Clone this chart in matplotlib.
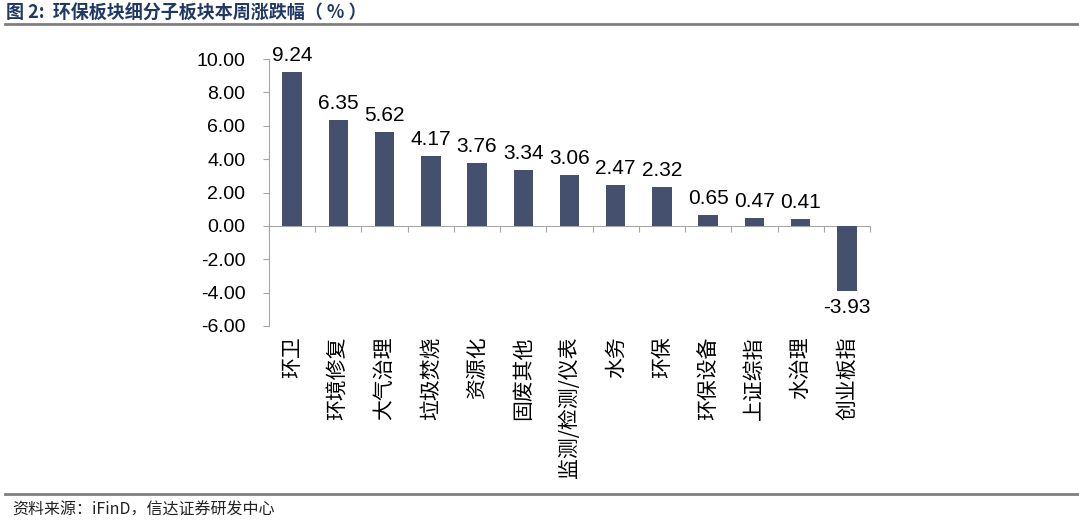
import matplotlib.pyplot as plt
import matplotlib.transforms as mtransforms
import numpy as np

plt.rcParams['font.family'] = ['Liberation Sans', 'Noto Sans CJK SC', 'DejaVu Sans']

categories = ['环卫', '环境修复', '大气治理', '垃圾焚烧', '资源化', '固废其他',
              '监测/检测/仪表', '水务', '环保', '环保设备', '上证综指', '水治理', '创业板指']
changes = [9.24, 6.35, 5.62, 4.17, 3.76, 3.34, 3.06, 2.47, 2.32, 0.65, 0.47, 0.41, -3.93]
yticks = [-6, -4, -2, 0, 2, 4, 6, 8, 10]

bar_color = '#454F6E'
axis_gray = '#A6A6A6'

fig = plt.figure(figsize=(10.79, 5.24), dpi=100)
ax = fig.add_axes([269 / 1079, 1 - 326 / 524, (870 - 269) / 1079, (326 - 59) / 524])

x = np.arange(len(categories))
ax.bar(x, changes, width=0.42, color=bar_color, zorder=3)

ax.set_xlim(-0.5, len(categories) - 0.5)
ax.set_ylim(-6, 10)
ax.set_yticks(yticks)
ax.set_yticklabels([f'{v:.2f}' for v in yticks], fontsize=14)
ax.tick_params(axis='y', direction='out', length=4, color=axis_gray, pad=13)

# x axis sits at zero, ticks between categories
ax.spines['bottom'].set_position(('data', 0))
ax.spines['bottom'].set_color(axis_gray)
ax.spines['left'].set_color(axis_gray)
ax.spines[['top', 'right']].set_visible(False)
ax.set_xticks(np.arange(len(categories) + 1) - 0.5)
ax.set_xticklabels([])
ax.tick_params(axis='x', direction='out', length=4, color=axis_gray)

# category labels under the plot area
trans = mtransforms.blended_transform_factory(ax.transData, ax.transAxes)
for xi, cat in zip(x, categories):
    ax.text(xi, -0.04, cat, transform=trans, rotation=90, ha='center', va='top',
            fontsize=15, family=['Noto Sans CJK SC', 'DejaVu Sans'])

# value labels
for xi, v in zip(x, changes):
    if v >= 0:
        ax.annotate(f'{v:.2f}', xy=(xi, v), xytext=(0, 5), textcoords='offset points',
                    ha='center', va='bottom', fontsize=15)
    else:
        ax.annotate(f'{v:.2f}', xy=(xi, v), xytext=(0, -5), textcoords='offset points',
                    ha='center', va='top', fontsize=15)

# header and footer
fig.text(6 / 1079, 1 - 13 / 524, '图 2:  环保板块细分子板块本周涨跌幅（ % ）', ha='left', va='center',
         fontsize=13, fontweight='bold', color='#1F3864',
         family=['Noto Sans CJK SC', 'DejaVu Sans'])
fig.add_artist(plt.Line2D([5 / 1079, 1], [1 - 24 / 524, 1 - 24 / 524],
                          color='#7F7F7F', linewidth=2))
fig.add_artist(plt.Line2D([5 / 1079, 1], [1 - 494 / 524, 1 - 494 / 524],
                          color='#7F7F7F', linewidth=2))
fig.text(12 / 1079, 1 - 510 / 524, '资料来源：iFinD，信达证券研发中心', ha='left', va='center',
         fontsize=11.5, style='italic', color='#222222',
         family=['Noto Sans CJK SC', 'DejaVu Sans'])

fig.savefig('out.png', dpi=100)
